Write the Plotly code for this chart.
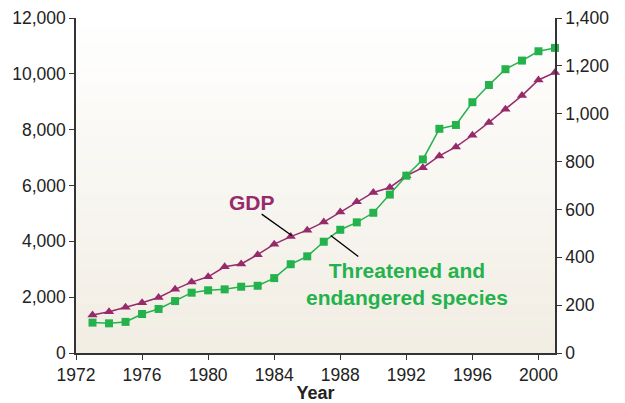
import plotly.graph_objects as go

years = list(range(1973, 2002))
gdp = [1360, 1480, 1640, 1800, 1990, 2280, 2540, 2730, 3090, 3190,
       3520, 3900, 4170, 4400, 4690, 5050, 5420, 5750, 5930, 6350,
       6640, 7060, 7380, 7800, 8260, 8730, 9220, 9780, 10050]
species = [127, 124, 130, 163, 184, 217, 252, 262, 266, 277,
           281, 313, 371, 404, 465, 515, 546, 586, 662, 741,
           809, 937, 953, 1048, 1120, 1186, 1222, 1261, 1275]
x_ticks = [1972, 1976, 1980, 1984, 1988, 1992, 1996, 2000]
left_ticks = [0, 2000, 4000, 6000, 8000, 10000, 12000]
right_ticks = [0, 200, 400, 600, 800, 1000, 1200, 1400]

PURPLE = "#962A6B"
GREEN = "#24B24D"
AXIS = "#333333"
FONT = "Liberation Sans, Arial, sans-serif"

fig = go.Figure()
fig.add_trace(go.Scatter(
    x=years, y=gdp, mode="lines+markers", name="GDP",
    line=dict(color=PURPLE, width=1.5),
    marker=dict(symbol="triangle-up", size=9, color=PURPLE),
    yaxis="y", cliponaxis=False))
fig.add_trace(go.Scatter(
    x=years, y=species, mode="lines+markers", name="Threatened and endangered species",
    line=dict(color=GREEN, width=1.5),
    marker=dict(symbol="square", size=8, color=GREEN),
    yaxis="y2", cliponaxis=False))

# gradient background for plot area
shapes = []
n = 40
top = (255, 255, 255)
bot = (241, 237, 227)
for i in range(n):
    t = (i + 0.5) / n
    c = tuple(round(top[k] + (bot[k] - top[k]) * t) for k in range(3))
    shapes.append(dict(type="rect", xref="paper", yref="paper",
                       x0=0, x1=1, y0=1 - (i + 1) / n, y1=1 - i / n + 0.001,
                       fillcolor="rgb(%d,%d,%d)" % c, line=dict(width=0),
                       layer="below"))
# leader lines
shapes.append(dict(type="line", xref="x", yref="y", x0=1983.24, y0=4975,
                   x1=1985.06, y1=4209, line=dict(color="black", width=1.3)))
shapes.append(dict(type="line", xref="x", yref="y", x0=1987.42, y0=4209,
                   x1=1989.09, y1=3457, line=dict(color="black", width=1.3)))

annotations = [
    dict(x=1982.67, y=5397, xref="x", yref="y", text="<b>GDP</b>",
         showarrow=False, font=dict(family=FONT, size=21, color=PURPLE),
         xanchor="center", yanchor="middle"),
    dict(x=1992.04, y=2480, xref="x", yref="y",
         text="<b>Threatened and<br>endangered species</b>",
         showarrow=False, font=dict(family=FONT, size=21, color=GREEN),
         xanchor="center", yanchor="middle", align="center"),
]

axis_common = dict(showgrid=False, zeroline=False, showline=True,
                   linecolor=AXIS, linewidth=1.5, ticks="outside",
                   ticklen=5, tickcolor=AXIS, tickwidth=1.2, automargin=False,
                   tickfont=dict(family=FONT, size=17.5, color="#222222"))

fig.update_layout(
    width=625, height=403,
    margin=dict(l=76, r=70, t=18, b=50),
    paper_bgcolor="white", plot_bgcolor="rgba(0,0,0,0)",
    showlegend=False,
    shapes=shapes, annotations=annotations,
    xaxis=dict(range=[1972, 2001], tickvals=x_ticks,
               title=dict(text="<b>Year</b>", font=dict(family=FONT, size=18, color="#222222"),
                          standoff=0),
               **axis_common),
    yaxis=dict(range=[0, 12000], tickvals=left_ticks, tickformat=",",
               side="left", **axis_common),
    yaxis2=dict(range=[0, 1400], tickvals=right_ticks, tickformat=",",
                side="right", overlaying="y", anchor="x", **axis_common),
)

fig.write_html("out.html", config={"displayModeBar": False},
               post_script="document.body.style.margin='0';document.body.style.overflow='hidden';")
